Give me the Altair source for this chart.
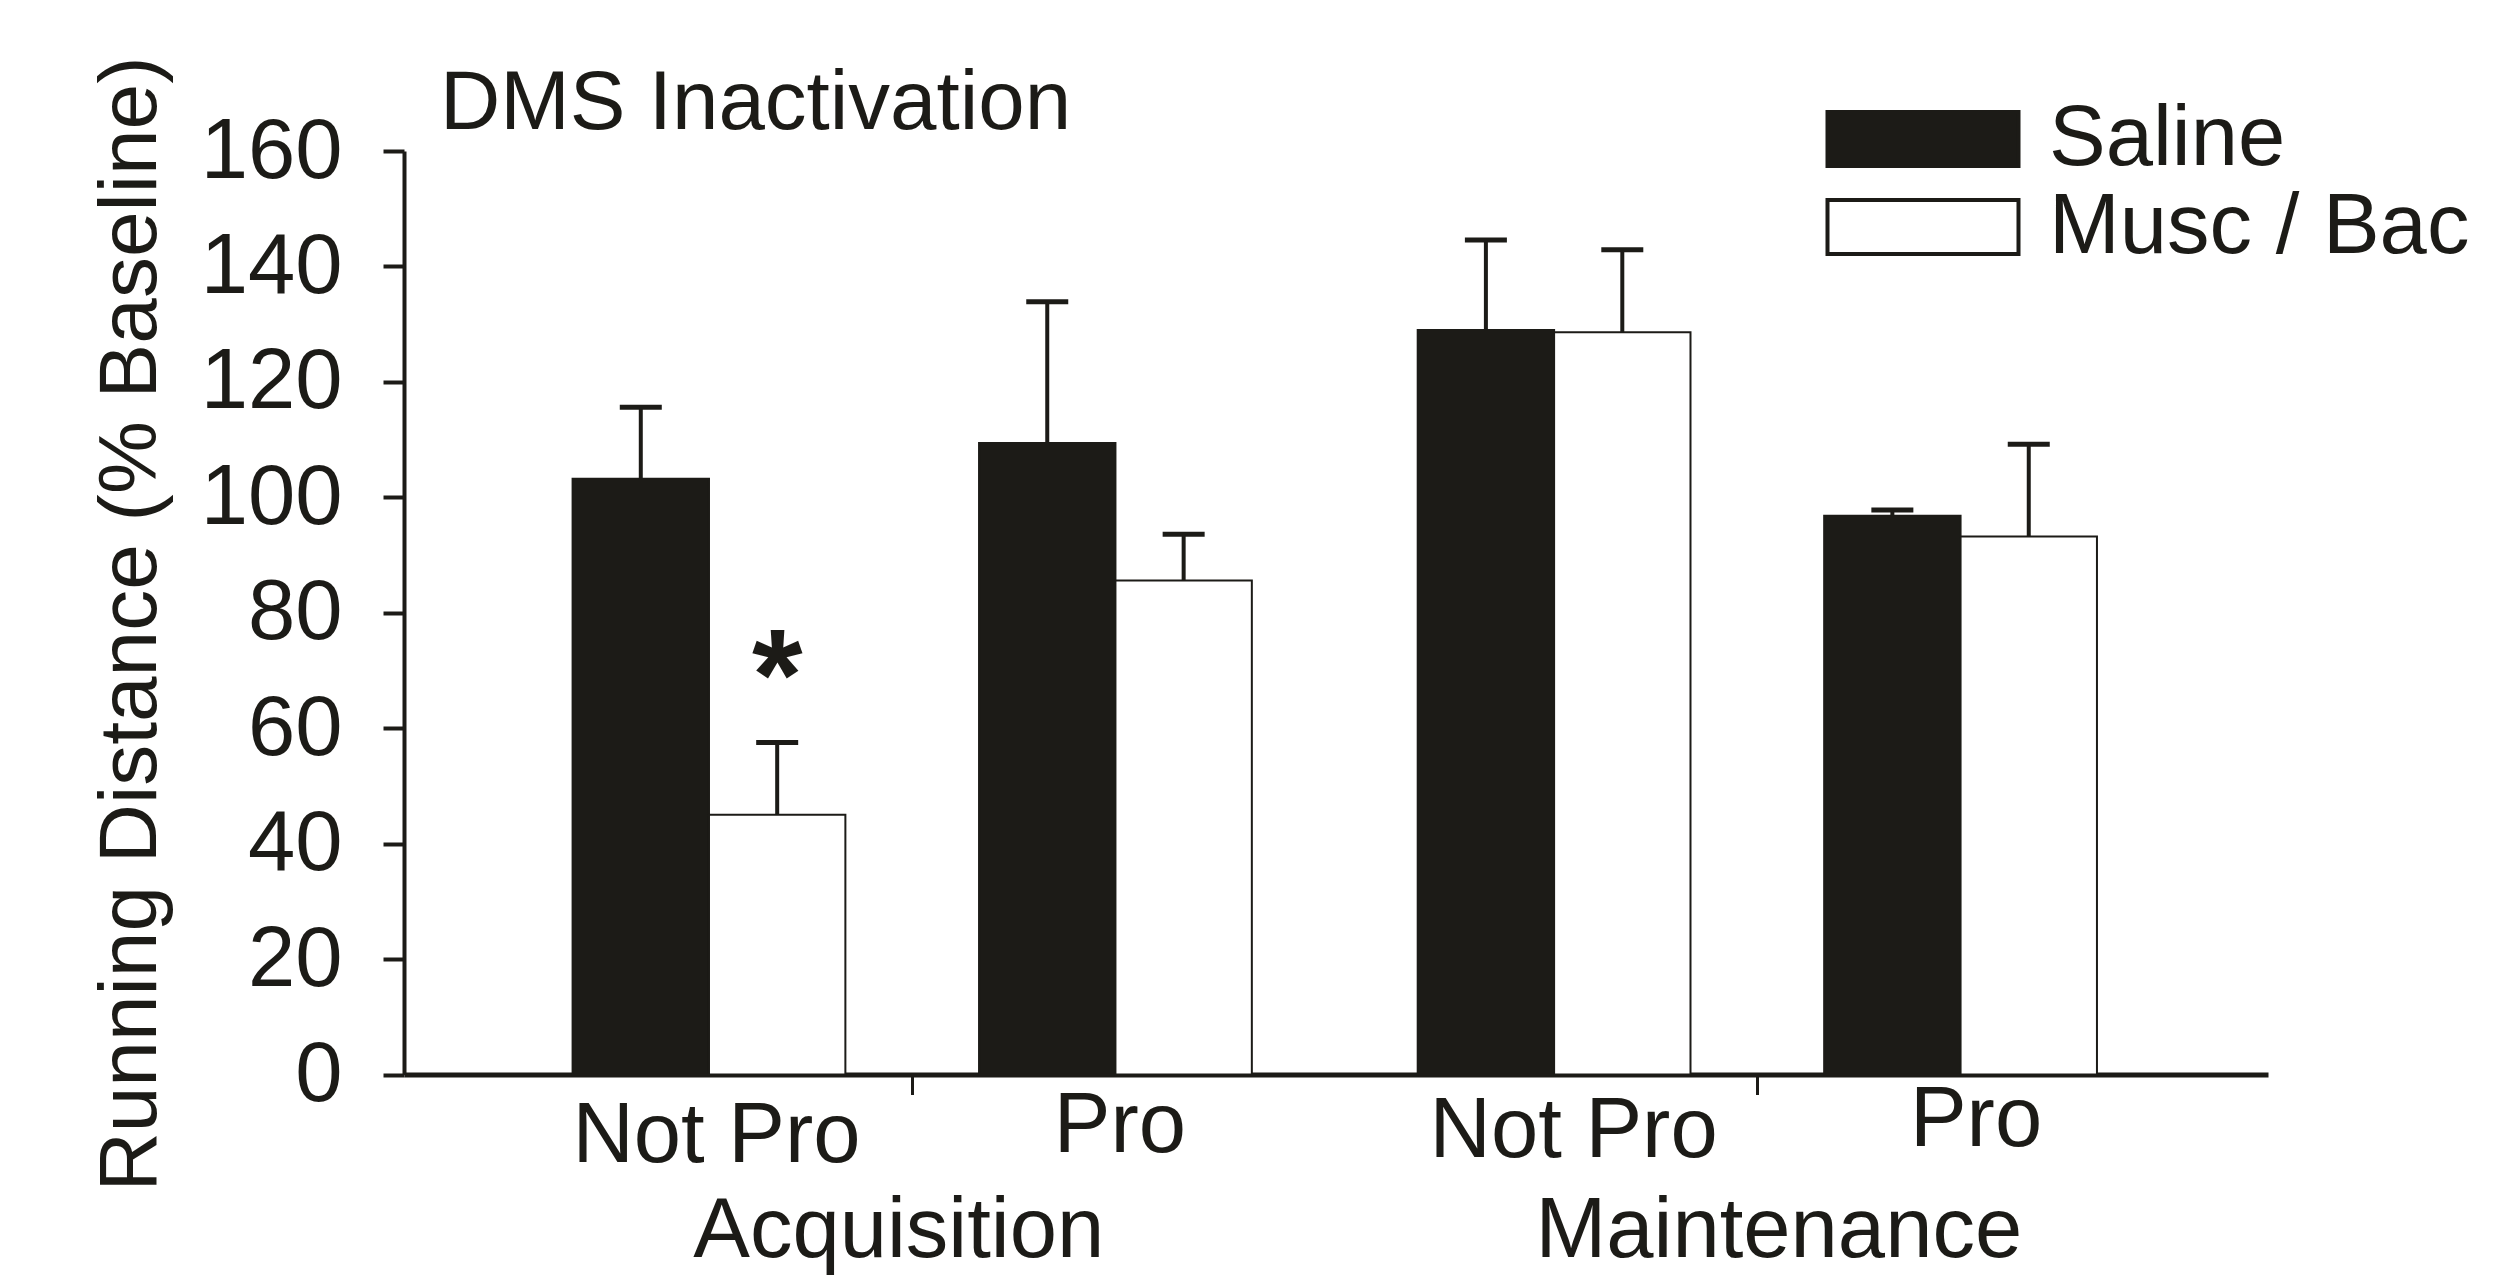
import altair as alt
import pandas as pd

# ---------------- data ----------------
phases = ["Acquisition", "Acquisition", "Maintenance", "Maintenance"]
groups = ["Not Pro", "Pro", "Not Pro", "Pro"]
treatments = ["Saline", "Musc / Bac"]
saline_mean = [103.2, 109.4, 129.0, 96.8]
saline_sem = [12.4, 24.5, 15.6, 1.0]
musc_mean = [45.0, 85.6, 128.6, 93.2]
musc_sem = [12.5, 8.0, 14.3, 16.0]
musc_significant = [True, False, False, False]
y_ticks = [0, 20, 40, 60, 80, 100, 120, 140, 160]

# ---------------- layout (in bar-width units / pixels) ----------------
BAR_W = 1.0
FIRST_CENTER = 2.236
GROUP_STEP = 2.98
PHASE_GAP = 0.236
X_MAX = 13.666
GROUP_LABEL_SHIFT = [7, 4, 19, 15]      # px nudges of the category labels
GROUP_LABEL_PAD = [20, 10, 15, 4]
PHASE_LABEL_SHIFT = [-14, 21]

FONT = "Liberation Sans"
INK = "#1c1b17"
FS = 85

phase_order = ["Acquisition", "Maintenance"]
centers = [FIRST_CENTER + i * GROUP_STEP + phase_order.index(p) * PHASE_GAP
           for i, p in enumerate(phases)]
separators = []
for p in phase_order:
    idx = [i for i, q in enumerate(phases) if q == p]
    separators.append((centers[idx[0]] + centers[idx[-1]]) / 2)

rows = []
for i in range(len(groups)):
    c = centers[i]
    for t, means, sems, sig, x0 in [
        ("Saline", saline_mean, saline_sem, [False] * 4, c - BAR_W),
        ("Musc / Bac", musc_mean, musc_sem, musc_significant, c),
    ]:
        rows.append({
            "phase": phases[i], "group": groups[i], "treatment": t,
            "mean": means[i], "hi": means[i] + sems[i],
            "x0": x0, "x1": x0 + BAR_W, "xm": x0 + BAR_W / 2,
            "sig": sig[i],
        })
df = pd.DataFrame(rows)


def value_expr(vals, outs, default, quote=False):
    expr = default
    for v, o in reversed(list(zip(vals, outs))):
        o = f"'{o}'" if quote else str(o)
        expr = f"abs(datum.value - {v:.4f}) < 0.01 ? {o} : ({expr})"
    return expr


xscale = alt.Scale(domain=[0, X_MAX], nice=False, zero=False)
yscale = alt.Scale(domain=[0, 160], nice=False, zero=True)

yaxis = alt.Axis(
    values=y_ticks, format="d", grid=False,
    tickSize=21, tickWidth=4, tickColor=INK,
    domainWidth=4, domainColor=INK,
    labelFontSize=FS, labelFont=FONT, labelColor=INK, labelPadding=41,
    labelFlush=False, labelOverlap=False, labelLimit=1000,
    title="Running Distance (% Baseline)", titleFontSize=82, titleFont=FONT,
    titleFontWeight="normal", titleColor=INK, titleAngle=270,
    titleX=-249, titleY=472.5, titleAlign="center", titleBaseline="alphabetic",
    titleLimit=2000,
)

group_axis = alt.Axis(
    orient="bottom", values=centers,
    labelExpr=value_expr(centers, groups, "''", quote=True),
    ticks=False, tickSize=0, domain=True, domainColor=INK, domainWidth=5,
    labelFontSize=FS, labelFont=FONT, labelColor=INK,
    labelPadding={"expr": value_expr(centers, GROUP_LABEL_PAD, "12")},
    labelOffset={"expr": value_expr(centers, GROUP_LABEL_SHIFT, "0")},
    labelFlush=False, labelOverlap=False, labelLimit=1000,
    grid=False, title=None,
)

sep_axis = alt.Axis(
    orient="bottom", values=separators, labels=False, domain=False,
    ticks=True, tickSize=20, tickWidth=3, tickColor=INK, grid=False, title=None,
)

phase_axis = alt.Axis(
    orient="bottom", values=separators,
    labelExpr=value_expr(separators, phase_order, "''", quote=True),
    ticks=False, tickSize=0, domain=False,
    labelFontSize=FS, labelFont=FONT, labelColor=INK, labelPadding=115,
    labelOffset={"expr": value_expr(separators, PHASE_LABEL_SHIFT, "0")},
    labelFlush=False, labelOverlap=False, labelLimit=1000,
    grid=False, title=None,
)

legend = alt.Legend(
    orient="none", legendX=1476.5, legendY=-54.5, title=None,
    symbolType="M-3.537,-1H3.537V1H-3.537Z", symbolSize=2916,
    symbolStrokeColor=INK, symbolStrokeWidth=4, symbolOpacity=1,
    labelFontSize=FS, labelFont=FONT, labelColor=INK, labelOffset=83.5,
    labelLimit=1000, rowPadding=2, padding=0,
)

base = alt.Chart(df)

bars = base.mark_bar(stroke=INK, strokeWidth=2, opacity=1).encode(
    x=alt.X("x0:Q", scale=xscale, axis=group_axis),
    x2="x1:Q",
    y=alt.Y("mean:Q", scale=yscale, axis=yaxis),
    y2=alt.datum(0),
    color=alt.Color("treatment:N",
                    scale=alt.Scale(domain=treatments, range=[INK, "white"]),
                    legend=legend),
)

err = base.mark_rule(color=INK, strokeWidth=4).encode(
    x=alt.X("xm:Q", scale=xscale, axis=sep_axis),
    y=alt.Y("mean:Q", scale=yscale, axis=yaxis),
    y2="hi:Q",
)

caps = base.mark_tick(orient="horizontal", size=42, thickness=5, color=INK,
                      opacity=1).encode(
    x=alt.X("xm:Q", scale=xscale, axis=phase_axis),
    y=alt.Y("hi:Q", scale=yscale, axis=yaxis),
)

star = base.transform_filter("datum.sig").mark_text(
    text="*", fontSize=130, fontWeight="bold", font=FONT, color=INK,
    baseline="alphabetic", align="center", dy=-23,
).encode(
    x=alt.X("xm:Q", scale=xscale, axis=None),
    y=alt.Y("hi:Q", scale=yscale, axis=yaxis),
)

chart = (
    alt.layer(bars, err, caps, star)
    .resolve_axis(x="independent")
    .properties(
        width=1864, height=923.5,
        title=alt.TitleParams(
            text="DMS Inactivation", anchor="start", frame="group",
            fontSize=83.5, font=FONT, fontWeight="normal", color=INK,
            dx=36, dy=90, offset=0,
        ),
        autosize=alt.AutoSizeParams(type="none"),
        padding={"left": 404, "top": 151, "right": 231, "bottom": 201.5},
    )
    .configure(background="white", font=FONT)
    .configure_view(stroke=None)
)

chart.save("out.html", embed_options={"renderer": "svg", "actions": False})
